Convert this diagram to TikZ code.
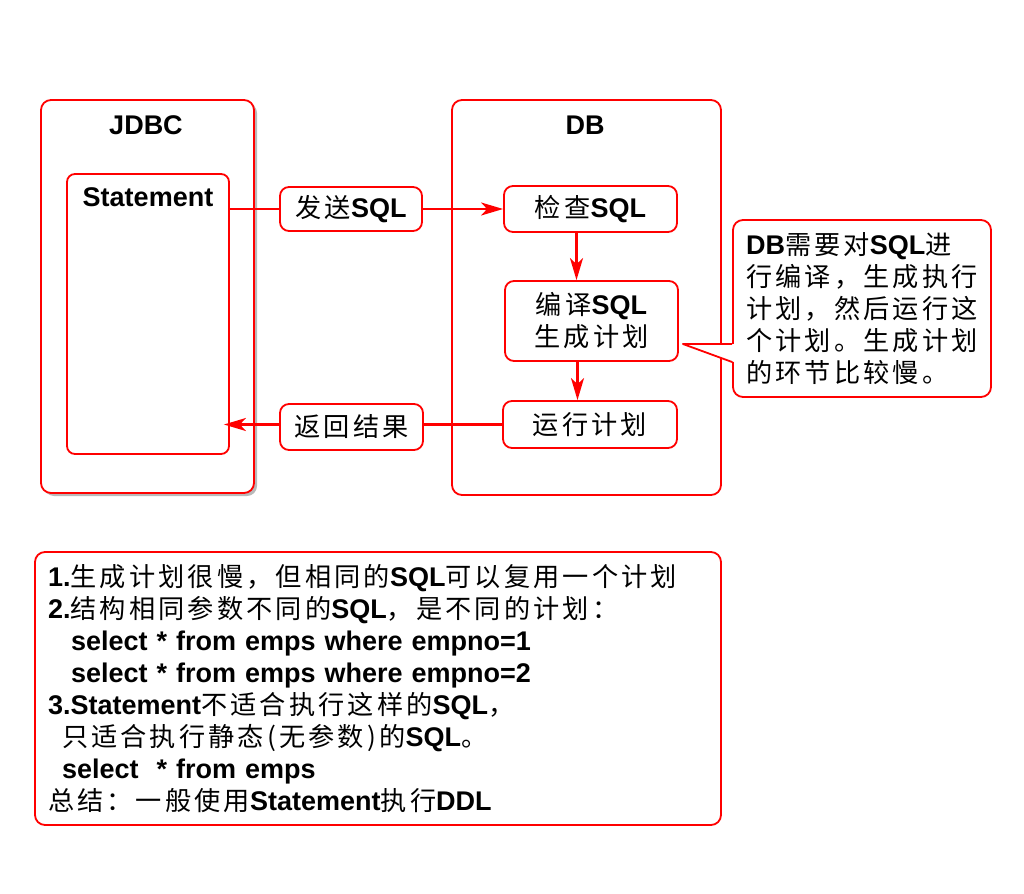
\documentclass[tikz,border=0pt]{standalone}
\usepackage{fontspec}
\setmainfont{Liberation Sans}
\newfontfamily\cjkfont{Noto Sans CJK SC}[Scale=0.97,LetterSpace=12]
\newcommand\zh[1]{{\cjkfont\mdseries#1}}
\usetikzlibrary{arrows.meta,shadows}
\definecolor{figred}{HTML}{FF0000}

\begin{document}
\begin{tikzpicture}[x=1pt,y=-1pt,
  every node/.style={font=\fontsize{27}{32}\selectfont\bfseries},
  frame/.style={draw=figred, line width=1.8pt, rounded corners=10pt, fill=white},
  stepbox/.style={draw=figred, line width=1.8pt, rounded corners=9pt, fill=white, align=center, inner sep=0pt},
  note/.style={draw=figred, line width=1.8pt, rounded corners=10pt, fill=white, align=left, inner xsep=13pt},
  flow/.style={draw=figred, line width=2.2pt},
  >={Stealth[length=22pt,width=13pt,inset=6pt]}
]
\useasboundingbox (0,0) rectangle (1024,893);
% JDBC side
\node[frame, minimum width=213pt, minimum height=393pt,
  drop shadow={shadow xshift=3pt, shadow yshift=-3pt, fill=black!55}] (jdbc) at (147.5,296.5) {};
\node (jdbctitle) at (146,125) {JDBC};
\node[frame, rounded corners=8pt, minimum width=162pt, minimum height=280pt] (stmt) at (148,314) {};
\node (stmttitle) at (148,197) {Statement};
% DB side
\node[frame, minimum width=269pt, minimum height=395pt] (db) at (586.5,297.5) {};
\node (dbtitle) at (585,125) {DB};
\node[stepbox, minimum width=173pt, minimum height=46pt] (check) at (590.5,209) {\zh{检查}SQL};
\node[stepbox, minimum width=173pt, minimum height=80pt] (compile) at (591.5,321) {\zh{编译}SQL\\\zh{生成计划}};
\node[stepbox, minimum width=174pt, minimum height=47pt] (run) at (590,424.5) {\zh{运行计划}};
% messages
\node[stepbox, minimum width=142pt, minimum height=44pt] (send) at (351,209) {\zh{发送}SQL};
\node[stepbox, minimum width=143pt, minimum height=46pt] (back) at (351.5,427) {\zh{返回结果}};
\draw[flow] (stmt.east |- send.west) -- (send.west);
\draw[flow,->] (send.east) -- (check.west |- send.east);
\draw[flow,->] ([xshift=-14pt]check.south) -- ([xshift=-14pt]check.south |- compile.north);
\draw[flow,->] ([xshift=-14pt]compile.south) -- ([xshift=-14pt]compile.south |- run.north);
\draw[flow] (run.west) -- (back.east |- run.west);
\draw[flow,->] (back.west |- run.west) -- ([xshift=-6pt]stmt.east |- run.west);

% callout
\node[note, text width=232pt, minimum width=256pt, minimum height=177pt] (remark) at (862,308.5)
  {DB\zh{需要对}SQL\zh{进}\\\zh{行编译，生成执行}\\\zh{计划，然后运行这}\\\zh{个计划。生成计划}\\\zh{的环节比较慢。}};
\coordinate (tip) at ([shift={(4,23)}]compile.east);
\fill[white] (tip) -- ([shift={(2,35.5)}]remark.west) -- ([shift={(2,53.5)}]remark.west) -- cycle;
\draw[figred, line width=1.8pt, line join=round] ([shift={(0,35.5)}]remark.west) -- (tip) -- ([shift={(0,53.5)}]remark.west);

% notes
\node[note, text width=660pt, minimum width=686pt, minimum height=273pt] (summary) at (378,688.5)
  {1.\zh{生成计划很慢，但相同的}SQL\zh{可以复用一个计划}\\
   2.\zh{结构相同参数不同的}SQL\zh{，是不同的计划：}\\
   \hspace*{23pt}select * from emps where empno=1\\
   \hspace*{23pt}select * from emps where empno=2\\
   3.Statement\zh{不适合执行这样的}SQL\zh{，}\\
   \hspace*{14pt}\zh{只适合执行静态(无参数)的}SQL\zh{。}\\
   \hspace*{14pt}select\ \ * from emps\\
   \zh{总结：一般使用}Statement\zh{执行}DDL};
\end{tikzpicture}
\end{document}
